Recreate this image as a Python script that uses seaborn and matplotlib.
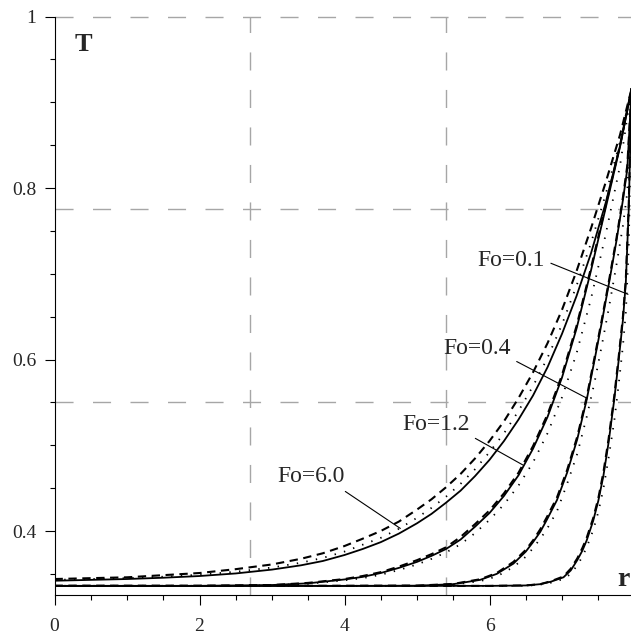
import matplotlib
matplotlib.use("Agg")
import matplotlib.pyplot as plt
import seaborn as sns

# ---- data ----
# Fo = 6.0 (leftmost family)
r_fo60 = [0, 0.5, 1, 1.5, 2, 2.5, 3, 3.4, 3.7, 4.0, 4.25, 4.5, 4.75, 5.0, 5.2, 5.4, 5.6, 5.8,
          6.0, 6.2, 6.4, 6.6, 6.8, 7.0, 7.2, 7.4, 7.6, 7.8, 7.96]
t_fo60_solid = [0.342, 0.343, 0.344, 0.3455, 0.3475, 0.3505, 0.355, 0.360, 0.365, 0.372,
                0.379, 0.387, 0.397, 0.409, 0.420, 0.433, 0.447, 0.464, 0.483, 0.505,
                0.530, 0.558, 0.591, 0.630, 0.674, 0.724, 0.782, 0.849, 0.916]
t_fo60_dash = [0.344, 0.345, 0.346, 0.3485, 0.351, 0.3555, 0.361, 0.3676, 0.374, 0.3825,
               0.391, 0.400, 0.411, 0.425, 0.437, 0.451, 0.4665, 0.4846, 0.505, 0.528,
               0.555, 0.585, 0.619, 0.658, 0.703, 0.753, 0.806, 0.862, 0.916]
t_fo60_dot = [0.343, 0.344, 0.345, 0.3467, 0.349, 0.3525, 0.3574, 0.363, 0.3686, 0.376,
              0.384, 0.392, 0.4026, 0.4154, 0.427, 0.440, 0.455, 0.472, 0.492, 0.514,
              0.540, 0.569, 0.602, 0.641, 0.686, 0.736, 0.792, 0.854, 0.916]

# Fo = 1.2
r_fo12 = [0, 1, 2, 2.5, 3, 3.5, 4.0, 4.25, 4.5, 4.75, 5.0, 5.2, 5.4, 5.6, 5.8, 6.0, 6.2,
          6.4, 6.6, 6.8, 7.0, 7.2, 7.4, 7.6, 7.8, 7.96]
t_fo12_solid = [0.336, 0.336, 0.336, 0.3365, 0.337, 0.339, 0.3435, 0.3465, 0.351, 0.357,
                0.364, 0.371, 0.379, 0.390, 0.405, 0.421, 0.441, 0.465, 0.496, 0.533,
                0.579, 0.636, 0.704, 0.776, 0.848, 0.916]
t_fo12_dash = [0.336, 0.336, 0.336, 0.3365, 0.337, 0.3395, 0.344, 0.3475, 0.352, 0.3585,
               0.366, 0.373, 0.381, 0.393, 0.408, 0.424, 0.444, 0.468, 0.499, 0.536,
               0.582, 0.639, 0.707, 0.779, 0.850, 0.916]
t_fo12_dot = [0.336, 0.336, 0.336, 0.336, 0.3368, 0.3385, 0.3425, 0.345, 0.349, 0.3545,
              0.361, 0.3675, 0.375, 0.3845, 0.3975, 0.413, 0.431, 0.453, 0.480, 0.514,
              0.556, 0.607, 0.671, 0.745, 0.826, 0.916]

# Fo = 0.4
r_fo04 = [0, 4, 5.0, 5.5, 5.87, 6.1, 6.33, 6.5, 6.6, 6.7, 6.79, 6.93, 7.07, 7.21, 7.34,
          7.45, 7.55, 7.65, 7.75, 7.84, 7.9, 7.96]
t_fo04_solid = [0.336, 0.336, 0.3362, 0.338, 0.343, 0.350, 0.362, 0.376, 0.387, 0.399,
                0.413, 0.436, 0.468, 0.507, 0.553, 0.600, 0.644, 0.690, 0.738, 0.786,
                0.822, 0.916]
t_fo04_dash = [0.336, 0.336, 0.3363, 0.3383, 0.3437, 0.351, 0.364, 0.378, 0.389, 0.402,
               0.416, 0.439, 0.471, 0.510, 0.556, 0.603, 0.647, 0.693, 0.741, 0.789,
               0.826, 0.916]
t_fo04_dot = [0.336, 0.336, 0.336, 0.3375, 0.3415, 0.347, 0.358, 0.370, 0.380, 0.391,
              0.402, 0.423, 0.455, 0.490, 0.533, 0.574, 0.617, 0.662, 0.710, 0.756,
              0.795, 0.916]

# Fo = 0.1 (rightmost family)
r_fo01 = [0, 6.0, 6.5, 6.7, 6.85, 7.02, 7.12, 7.21, 7.28, 7.34, 7.43, 7.5, 7.57, 7.64,
          7.72, 7.78, 7.84, 7.88, 7.92, 7.96]
t_fo01_solid = [0.336, 0.336, 0.3365, 0.338, 0.341, 0.346, 0.354, 0.366, 0.377, 0.389,
                0.412, 0.435, 0.464, 0.502, 0.553, 0.598, 0.646, 0.690, 0.775, 0.916]
t_fo01_dash = [0.336, 0.336, 0.3365, 0.338, 0.3415, 0.347, 0.356, 0.368, 0.380, 0.392,
               0.415, 0.438, 0.468, 0.506, 0.557, 0.602, 0.650, 0.694, 0.780, 0.916]
t_fo01_dot = [0.336, 0.336, 0.336, 0.3375, 0.3398, 0.344, 0.350, 0.360, 0.370, 0.381,
              0.401, 0.422, 0.449, 0.484, 0.528, 0.570, 0.616, 0.655, 0.730, 0.916]

labels = ["Fo=0.1", "Fo=0.4", "Fo=1.2", "Fo=6.0"]
x_major = [0, 2, 4, 6]
y_major = [0.4, 0.6, 0.8, 1.0]
y_major_labels = ["0.4", "0.6", "0.8", "1"]
x_grid = [2.698, 5.397]
y_grid = [0.55, 0.775, 1.0]

# ---- style ----
sns.set_style("ticks")
plt.rcParams["font.family"] = ["Liberation Serif", "DejaVu Serif"]
plt.rcParams["lines.scale_dashes"] = False
plt.rcParams["lines.solid_joinstyle"] = "round"

fig = plt.figure(figsize=(6.31, 6.35), dpi=100)
ax = fig.add_axes([0.0864, 0.0625, 0.9301, 0.9115])

grid_kw = dict(color="#a6a6a6", lw=1.0, linestyle=(0, (13, 14)), zorder=0, clip_on=False)
for gx in x_grid:
    ax.axvline(gx, **grid_kw)
for gy in y_grid:
    ax.axhline(gy, **grid_kw)

solid = dict(color="black", linewidth=1.3, linestyle="-")
dash = dict(color="black", linewidth=1.5, linestyle=(0, (6, 4)))
dot = dict(color="black", linewidth=1.3, linestyle=(0, (1, 6)))

families = [
    (r_fo60, t_fo60_solid, t_fo60_dash, t_fo60_dot),
    (r_fo12, t_fo12_solid, t_fo12_dash, t_fo12_dot),
    (r_fo04, t_fo04_solid, t_fo04_dash, t_fo04_dot),
    (r_fo01, t_fo01_solid, t_fo01_dash, t_fo01_dot),
]
for r, ts, td, tp in families:
    sns.lineplot(x=r, y=ts, ax=ax, estimator=None, sort=False, **solid)
    sns.lineplot(x=r, y=td, ax=ax, estimator=None, sort=False, **dash)
    sns.lineplot(x=r, y=tp, ax=ax, estimator=None, sort=False, **dot)

# label text position, pointer tip, pointer anchor on the text box
notes = [
    ((6.30, 0.715), (7.91, 0.676), (1.0, 0.5)),
    ((5.83, 0.613), (7.34, 0.555), (0.98, 0.05)),
    ((5.26, 0.524), (6.46, 0.477), (1.0, 0.0)),
    ((3.54, 0.464), (4.77, 0.403), (0.9, 0.0)),
]
for text, (pos, tip, rel) in zip(labels, notes):
    ax.annotate(text, xy=tip, xytext=pos, fontsize=17, ha="center", va="center",
                arrowprops=dict(arrowstyle="-", color="black", lw=0.8,
                                relpos=rel, shrinkA=2, shrinkB=0))

ax.text(0.40, 0.967, "T", fontsize=19, fontweight="bold", ha="center", va="center")
ax.text(7.85, 0.343, "r", fontsize=20, fontweight="bold", ha="center", va="center")

ax.set_xlim(0, 8.095)
ax.set_ylim(0.325, 1.0)
ax.set_xticks(x_major)
ax.set_xticks([v * 0.5 for v in range(0, 17)], minor=True)
ax.set_yticks(y_major)
ax.set_yticklabels(y_major_labels)
ax.set_yticks([0.35 + 0.05 * i for i in range(13)], minor=True)
ax.tick_params(axis="both", which="major", length=7, width=0.8, labelsize=14, color="black")
ax.tick_params(axis="both", which="minor", length=3.6, width=0.8, color="black")
ax.tick_params(axis="x", which="major", pad=9)
ax.tick_params(axis="y", which="major", pad=6)
for side in ["top", "right"]:
    ax.spines[side].set_visible(False)
for side in ["left", "bottom"]:
    ax.spines[side].set_linewidth(0.8)
    ax.spines[side].set_color("black")
ax.set_xlabel("")
ax.set_ylabel("")

fig.savefig("out.png", dpi=100)
